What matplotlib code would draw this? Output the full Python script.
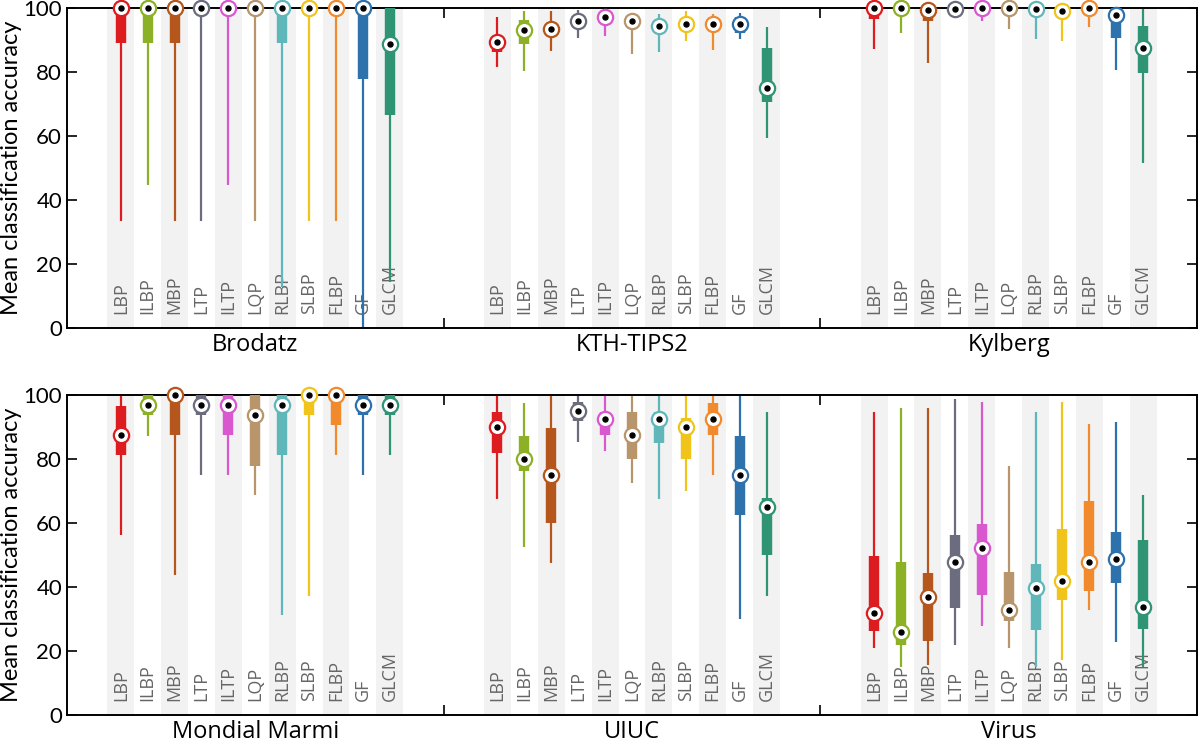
import matplotlib
matplotlib.use("Agg")
import matplotlib.pyplot as plt
from matplotlib.transforms import blended_transform_factory

# ── data ────────────────────────────────────────────────────────────────────
methods = ["LBP", "ILBP", "MBP", "LTP", "ILTP", "LQP",
           "RLBP", "SLBP", "FLBP", "GF", "GLCM"]
datasets = ["Brodatz", "KTH-TIPS2", "Kylberg",
            "Mondial Marmi", "UIUC", "Virus"]
colors = ["#dc1c1f", "#8db126", "#b5571c", "#6b6c7e", "#d957cf", "#b8956a",
          "#5fb7ba", "#f0c41b", "#f08a2c", "#2d71ad", "#2f9474"]

# one row per dataset, one column per method
whisker_lo = [
    [33.3, 44.7, 33.3, 33.3, 44.7, 33.3, 12.8, 33.3, 33.3, 0.0, 14.5],
    [81.7, 80.4, 86.7, 90.7, 91.4, 85.6, 86.3, 89.8, 86.9, 90.2, 59.5],
    [87.2, 92.1, 82.9, 96.8, 96.0, 93.3, 90.2, 89.8, 94.0, 80.6, 51.7],
    [56.2, 87.3, 43.8, 75.0, 75.0, 68.6, 31.1, 37.2, 81.2, 75.0, 81.2],
    [67.5, 52.6, 47.4, 85.2, 82.6, 72.4, 67.5, 70.0, 75.0, 30.0, 37.3],
    [21.0, 15.0, 15.6, 21.9, 27.8, 21.0, 15.0, 17.2, 32.9, 22.9, 15.0],
]
quart_1 = [
    [89.0, 89.0, 89.0, 100, 100, 100, 89.0, 100, 100, 77.8, 66.7],
    [86.2, 88.7, 92.0, 94.5, 96.0, 94.5, 93.0, 93.5, 93.5, 92.2, 70.5],
    [96.5, 100, 96.0, 99.8, 99.5, 100, 99.8, 98.5, 100, 90.7, 79.8],
    [81.4, 93.9, 87.4, 93.9, 87.4, 77.9, 81.2, 93.9, 90.6, 93.9, 93.9],
    [82.0, 76.2, 59.9, 92.0, 87.5, 80.0, 85.1, 80.0, 87.5, 62.5, 50.0],
    [26.3, 21.9, 23.2, 33.3, 37.5, 29.5, 26.7, 35.9, 38.9, 41.3, 27.0],
]
medians = [
    [100, 100, 100, 100, 100, 100, 100, 100, 100, 100, 88.9],
    [89.3, 93.1, 93.6, 95.8, 97.1, 95.8, 94.3, 94.9, 94.9, 94.9, 75.0],
    [100, 100, 99.4, 99.8, 100, 100, 99.8, 99.0, 100, 97.7, 87.4],
    [87.4, 96.8, 100, 96.8, 96.8, 93.8, 96.8, 100, 100, 96.8, 96.8],
    [90.0, 80.0, 75.0, 95.0, 92.5, 87.5, 92.5, 90.0, 92.5, 75.0, 65.1],
    [32.0, 26.0, 36.9, 47.9, 52.1, 32.9, 39.8, 42.0, 47.9, 48.8, 33.9],
]
quart_3 = [
    [100, 100, 100, 100, 100, 100, 100, 100, 100, 100, 100],
    [90.6, 96.2, 95.0, 97.0, 98.0, 97.0, 95.5, 96.0, 96.0, 97.3, 87.4],
    [100, 100, 100, 100, 100, 100, 100, 100, 100, 100, 94.4],
    [96.7, 100, 100, 100, 100, 100, 100, 100, 100, 100, 100],
    [94.7, 87.3, 89.8, 97.9, 94.7, 94.7, 94.7, 92.9, 97.4, 87.3, 67.9],
    [49.8, 47.9, 44.5, 56.4, 59.7, 44.7, 47.2, 58.1, 66.9, 57.2, 54.6],
]
whisker_hi = [
    [100, 100, 100, 100, 100, 100, 100, 100, 100, 100, 100],
    [97.3, 99.2, 99.2, 99.5, 99.0, 98.1, 98.1, 99.2, 98.1, 98.3, 94.2],
    [100, 100, 100, 100, 100, 100, 100, 100, 100, 100, 100],
    [100, 100, 100, 100, 100, 100, 100, 100, 100, 100, 100],
    [100, 97.4, 100, 100, 100, 100, 100, 100, 100, 100, 94.8],
    [94.8, 95.8, 95.8, 98.8, 97.9, 77.8, 94.8, 97.9, 90.9, 91.7, 68.9],
]

GROUP = 14          # slots per dataset group
OFFSET = 2          # first box position inside a group

fig = plt.figure(figsize=(12, 7.44), dpi=100)
ax_top = fig.add_axes([0.0558, 0.5591, 0.9417, 0.4301])
ax_bot = fig.add_axes([0.0558, 0.0390, 0.9417, 0.4301])

for row, ax in enumerate([ax_top, ax_bot]):
    ax.set_xlim(0, 3 * GROUP)
    ax.set_ylim(0, 100)
    trans = blended_transform_factory(ax.transData, ax.transAxes)

    for g in range(3):
        d = row * 3 + g
        for i, name in enumerate(methods):
            x = g * GROUP + OFFSET + i
            c = colors[i]
            # alternating gray background bands
            if i % 2 == 0:
                ax.axvspan(x - 0.5, x + 0.5, color="#f2f2f2", lw=0, zorder=0)
            ax.text(x, 4.5, name, rotation=90, ha="center", va="bottom",
                    fontsize=13, color="#666666", family="Open Sans", zorder=1)
            # whisker, box, median
            ax.vlines(x, whisker_lo[d][i], whisker_hi[d][i], color=c,
                      lw=1.6, zorder=2, clip_on=False)
            ax.vlines(x, quart_1[d][i], quart_3[d][i], color=c,
                      lw=7.5, zorder=3, clip_on=False, capstyle="butt")
            ax.plot(x, medians[d][i], "o", ms=11, mfc="white", mec=c,
                    mew=1.6, zorder=4, clip_on=False)
            ax.plot(x, medians[d][i], "o", ms=3.6, color="black",
                    zorder=5, clip_on=False)

        ax.text(g * GROUP + GROUP / 2, -0.015, datasets[d], transform=trans,
                ha="center", va="top", fontsize=17, family="Open Sans")

    ax.set_yticks([0, 20, 40, 60, 80, 100])
    ax.set_xticks([GROUP, 2 * GROUP])
    ax.set_xticklabels([])
    ax.tick_params(direction="in", length=7, width=1.2, top=True, right=True,
                   labelsize=16)
    for lbl in ax.get_yticklabels():
        lbl.set_family("Lato")
    for s in ax.spines.values():
        s.set_linewidth(1.4)
    ax.set_ylabel("Mean classification accuracy", fontsize=17,
                  family="Lato", labelpad=1)

fig.savefig("out.png", dpi=100)
